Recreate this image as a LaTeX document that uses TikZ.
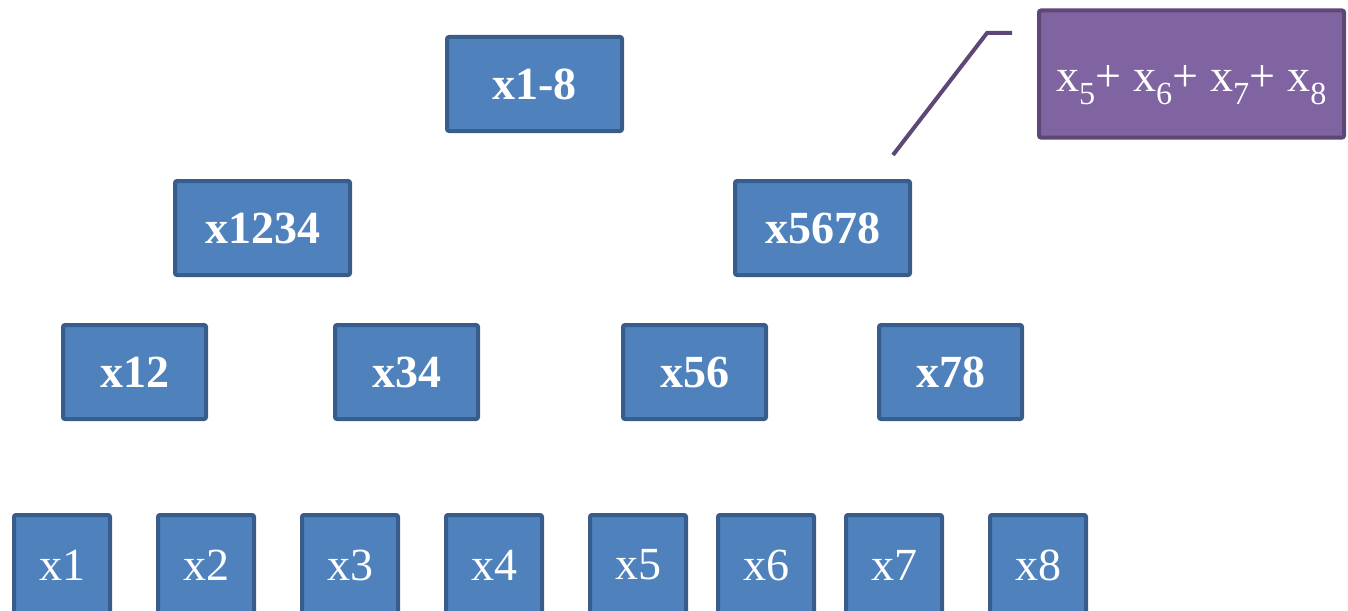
\documentclass[tikz,border=0pt]{standalone}
\usepackage{fontspec}
\setmainfont{Liberation Serif}
\definecolor{bfill}{HTML}{4F81BD}
\definecolor{bline}{HTML}{385D8A}
\definecolor{pfill}{HTML}{8064A2}
\definecolor{pline}{HTML}{5C4776}
\tikzset{
  blk/.style={draw=bline, fill=bfill, line width=4pt, rounded corners=2pt, text=white,
    font=\fontsize{46}{50}\selectfont\bfseries, inner sep=0pt},
  wide/.style={blk, minimum width=175pt, minimum height=94pt},
  mid/.style={blk, minimum width=143pt, minimum height=94pt},
  leaf/.style={blk, minimum width=96pt, minimum height=100pt, font=\fontsize{46}{50}\selectfont},
  note/.style={draw=pline, fill=pfill, line width=4pt, rounded corners=2pt, text=white,
    minimum width=305pt, minimum height=127pt, inner sep=0pt, font=\fontsize{46}{50}\selectfont},
  callout/.style={draw=pline, line width=4pt}
}
\begin{document}
\begin{tikzpicture}[x=1pt,y=-1pt]
\useasboundingbox (0,0) rectangle (1348,610);
\clip (0,0) rectangle (1348,610);
\node[wide] (r) at (534.5,84) {x1-8};
\node[wide] (a) at (262.5,228) {x1234};
\node[wide] (b) at (822.5,228) {x5678};
\node[mid] (c1) at (134.5,372) {x12};
\node[mid] (c2) at (406.5,372) {x34};
\node[mid] (c3) at (694.5,372) {x56};
\node[mid] (c4) at (950.5,372) {x78};
\node[leaf] (l1) at (62,565) {x1};
\node[leaf] (l2) at (206,565) {x2};
\node[leaf] (l3) at (350,565) {x3};
\node[leaf] (l4) at (494,565) {x4};
\node[leaf] (l5) at (638,565) {x5};
\node[leaf] (l6) at (766,565) {x6};
\node[leaf] (l7) at (894,565) {x7};
\node[leaf] (l8) at (1038,565) {x8};
\node[note] (n) at (1191.5,74) {\raisebox{-18pt}[0pt][0pt]{x\textsubscript{5}+ x\textsubscript{6}+ x\textsubscript{7}+ x\textsubscript{8}}};
\coordinate (p0) at (893,155);
\coordinate (p1) at (987,33);
\coordinate (p2) at (1012,33);
\draw[callout] (p0) -- (p1) -- (p2);
\end{tikzpicture}
\end{document}
